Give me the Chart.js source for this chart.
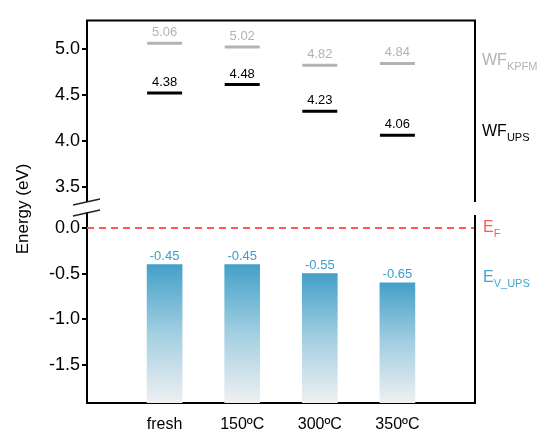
<!DOCTYPE html>
<html><head><meta charset="utf-8">
<script src="https://cdn.jsdelivr.net/npm/chart.js@4.4.0/dist/chart.umd.min.js"></script>
<style>html,body{margin:0;padding:0;background:#fff;} canvas{display:block;}</style>
</head><body>
<canvas id="c" width="538" height="430" style="width:538px;height:430px"></canvas>
<script>
const categories = ['fresh', '150ºC', '300ºC', '350ºC'];
const categoryPos = [1, 2, 3, 4];
const wfKpfm = [5.06, 5.02, 4.82, 4.84];
const wfKpfmLabels = ['5.06', '5.02', '4.82', '4.84'];
const wfUps = [4.52, 4.61, 4.32, 4.06];
const wfUpsLabels = ['4.38', '4.48', '4.23', '4.06'];
const evUps = [-0.40, -0.40, -0.50, -0.60];
const evUpsLabels = ['-0.45', '-0.45', '-0.55', '-0.65'];
const fermiLevel = 0;
const upperTicks = [3.5, 4.0, 4.5, 5.0];
const lowerTicks = [0.0, -0.5, -1.0, -1.5];
const upperRange = [3.228, 5.307];
const lowerRange = [-1.913, 0.177];
const xRange = [0, 5];

const FONT = '"Liberation Sans", Arial, sans-serif';
Chart.defaults.font.family = FONT;
Chart.defaults.color = '#000';

const segDataset = (vals, color, labels) => ({
  type: 'scatter',
  data: categoryPos.map((x, i) => ({ x, y: vals[i] })),
  xAxisID: 'x', yAxisID: 'yTop',
  pointStyle: 'line', pointRadius: 17.5, pointHoverRadius: 17.5,
  pointBorderColor: color, pointBackgroundColor: color, pointBorderWidth: 3,
  showLine: false,
  valueLabels: labels, labelColor: color
});

const barGradient = (ctx) => {
  const chart = ctx.chart;
  const ys = chart.scales.yBot;
  if (ctx.type !== 'data' || !ys || !chart.chartArea) return '#4aa3c9';
  const top = ys.getPixelForValue(evUps[ctx.dataIndex]);
  const bottom = ys.getPixelForValue(lowerRange[0]);
  const g = chart.ctx.createLinearGradient(0, top, 0, bottom);
  g.addColorStop(0, '#43a0c8');
  g.addColorStop(0.5, '#a3cfe2');
  g.addColorStop(1, '#eff0f1');
  return g;
};

const decor = {
  id: 'decor',
  afterDraw(chart) {
    const c = chart.ctx, a = chart.chartArea;
    c.save();
    c.strokeStyle = '#000'; c.lineWidth = 2;
    c.beginPath();
    c.moveTo(a.left - 1, a.top); c.lineTo(a.right + 1, a.top);
    c.moveTo(a.right, a.top); c.lineTo(a.right, 202);
    c.moveTo(a.right, 215); c.lineTo(a.right, a.bottom + 1);
    c.stroke();
    // axis break on left
    c.fillStyle = '#fff';
    c.fillRect(a.left - 3, 202, 6, 10);
    c.strokeStyle = '#222'; c.lineWidth = 1.3;
    c.beginPath();
    c.moveTo(73, 205); c.lineTo(100, 199);
    c.moveTo(73, 216); c.lineTo(100, 210);
    c.stroke();
    // axis title
    c.fillStyle = '#000';
    c.font = '17px ' + FONT;
    c.textAlign = 'center'; c.textBaseline = 'middle';
    c.translate(23, 209); c.rotate(-Math.PI / 2);
    c.fillText('Energy (eV)', 0, 0);
    c.restore();

    // value labels
    c.save();
    c.textAlign = 'center'; c.textBaseline = 'alphabetic';
    chart.data.datasets.forEach((ds, di) => {
      if (!ds.valueLabels) return;
      const meta = chart.getDatasetMeta(di);
      c.fillStyle = ds.labelColor;
      c.font = '13px ' + FONT;
      meta.data.forEach((el, i) => {
        const isBar = ds.type === 'bar';
        const y = isBar ? Math.min(el.y, el.base) : el.y;
        const off = isBar ? 5 : 7;
        c.fillText(ds.valueLabels[i], el.x, y - off);
      });
    });
    c.restore();

    // right-hand legend labels with subscripts
    const sub = (main, s, x, y, color) => {
      c.save();
      c.fillStyle = color; c.textAlign = 'left'; c.textBaseline = 'alphabetic';
      c.font = '16px ' + FONT;
      c.fillText(main, x, y);
      const w = c.measureText(main).width;
      c.font = '11px ' + FONT;
      c.fillText(s, x + w, y + 5);
      c.restore();
    };
    sub('WF', 'KPFM', 482, 65, '#b3b3b3');
    sub('WF', 'UPS', 482, 136, '#000');
    sub('E', 'F', 483, 232, '#ff5a5a');
    sub('E', 'V_UPS', 483, 282, '#4aa3cc');
  }
};

new Chart(document.getElementById('c'), {
  data: {
    datasets: [
      {
        type: 'bar',
        data: categoryPos.map((x, i) => ({ x, y: [lowerRange[0], evUps[i]] })),
        xAxisID: 'x', yAxisID: 'yBot',
        barThickness: 35, borderWidth: 0,
        backgroundColor: barGradient,
        valueLabels: evUpsLabels, labelColor: '#3f9cc6'
      },
      {
        type: 'line',
        data: [{ x: xRange[0], y: fermiLevel }, { x: xRange[1], y: fermiLevel }],
        xAxisID: 'x', yAxisID: 'yBot',
        borderColor: '#ff5a5a', borderWidth: 2, borderDash: [7, 5],
        pointRadius: 0, fill: false
      },
      segDataset(wfKpfm, '#b3b3b3', wfKpfmLabels),
      segDataset(wfUps, '#000', wfUpsLabels)
    ]
  },
  options: {
    responsive: false,
    animation: false,
    devicePixelRatio: 1,
    layout: { padding: { top: 14, right: 63, left: 0, bottom: 0 } },
    plugins: { legend: { display: false }, tooltip: { enabled: false } },
    scales: {
      x: {
        type: 'linear', position: 'bottom', min: xRange[0], max: xRange[1], offset: false,
        afterBuildTicks: s => { s.ticks = categoryPos.map(v => ({ value: v })); },
        ticks: {
          callback: v => { const i = categoryPos.indexOf(v); return i >= 0 ? categories[i] : ''; },
          font: { size: 16 }, color: '#000', padding: 4, maxRotation: 0, autoSkip: false
        },
        grid: { display: false },
        border: { display: true, color: '#000', width: 2 },
        afterFit: s => { s.height = 27; }
      },
      yBot: {
        type: 'linear', position: 'left', stack: 'energy', stackWeight: 1,
        min: lowerRange[0], max: lowerRange[1],
        afterBuildTicks: s => { s.ticks = lowerTicks.map(v => ({ value: v })); },
        ticks: { callback: v => v.toFixed(1), font: { size: 18 }, color: '#000', padding: 2 },
        grid: { drawOnChartArea: false, drawTicks: true, tickLength: 5, color: '#000', lineWidth: 2 },
        border: { display: true, color: '#000', width: 2 },
        afterFit: s => { s.width = 87; }
      },
      yTop: {
        type: 'linear', position: 'left', stack: 'energy', stackWeight: 1,
        min: upperRange[0], max: upperRange[1],
        afterBuildTicks: s => { s.ticks = upperTicks.map(v => ({ value: v })); },
        ticks: { callback: v => v.toFixed(1), font: { size: 18 }, color: '#000', padding: 2 },
        grid: { drawOnChartArea: false, drawTicks: true, tickLength: 5, color: '#000', lineWidth: 2 },
        border: { display: true, color: '#000', width: 2 },
        afterFit: s => { s.width = 87; }
      }
    }
  },
  plugins: [decor]
});
</script>
</body></html>
